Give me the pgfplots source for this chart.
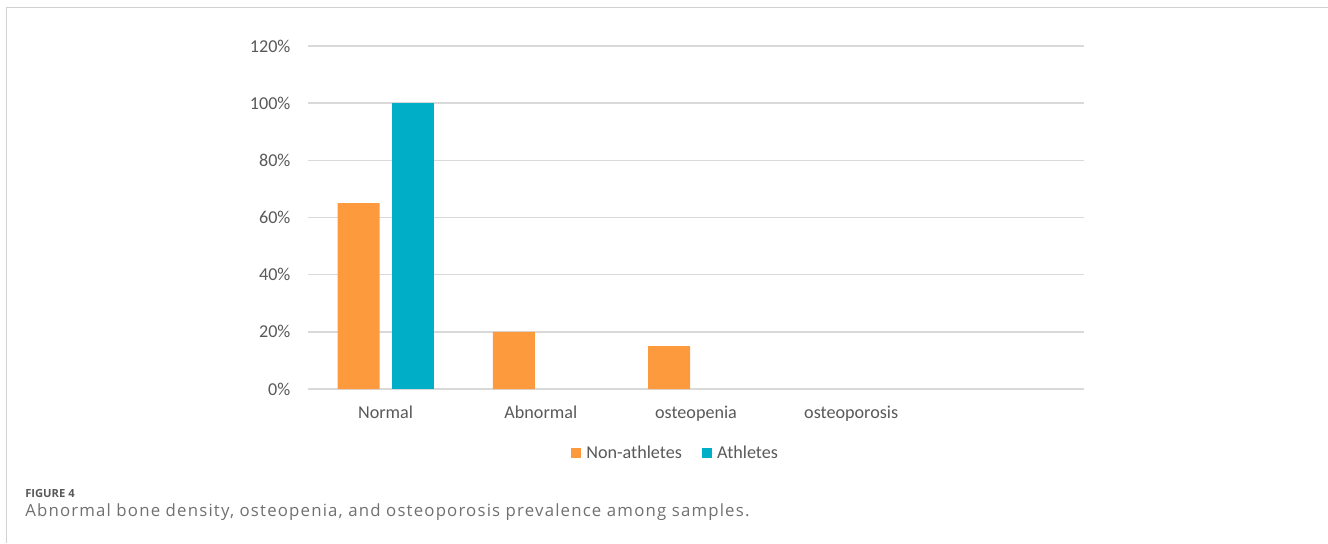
\documentclass[border=0pt]{standalone}
\usepackage{fontspec}
\setmainfont{Carlito}
\newfontfamily\capfont[LetterSpace=7]{Open Sans}
\newfontfamily\capfontb{Open Sans}
\usepackage{pgfplots}
\pgfplotsset{compat=1.18}

\definecolor{barorange}{HTML}{FD9A3E}
\definecolor{barteal}{HTML}{00AEC7}
\definecolor{gridgray}{HTML}{D9D9D9}
\definecolor{labelgray}{HTML}{595959}
\definecolor{framegray}{HTML}{D2D2D2}
\definecolor{captiongray}{HTML}{707070}

\begin{document}
\begin{tikzpicture}
% page area and the thin frame on the top and left
\path[use as bounding box] (0pt,0pt) rectangle (996pt,-407.25pt);
\draw[framegray, line width=1.1pt] (4.9pt,-407.25pt) -- (4.9pt,-5.6pt) -- (996pt,-5.6pt);

\begin{axis}[
  at={(231pt,-291.75pt)}, anchor=south west,
  scale only axis, width=582pt, height=257.25pt,
  xmin=-0.5, xmax=4.5, ymin=0, ymax=120,
  ybar=9pt, bar width=31.5pt,
  xtick={0,1,2,3,4},
  xticklabels={Normal,Abnormal,osteopenia,osteoporosis,{}},
  ytick={0,20,40,60,80,100,120},
  /pgf/number format/assume math mode=true,
  yticklabel={\pgfmathprintnumber{\tick}\%},
  ymajorgrids, grid style={gridgray, line width=1.1pt},
  axis line style={draw=none}, major tick style={draw=none},
  tick label style={font=\fontsize{13.6}{15}\selectfont, text=labelgray},
  yticklabel style={anchor=east, inner sep=0pt, xshift=-13pt},
  xticklabel style={anchor=north, inner sep=0pt, text height=9pt, text depth=3pt, yshift=-9pt},
  legend style={at={(0.474,-0.1866)}, anchor=center, draw=none,
    font=\fontsize{13.6}{15}\selectfont, text=labelgray,
    legend columns=2, inner sep=0pt,
    /tikz/every even column/.append style={column sep=13pt},
    nodes={inner sep=2pt}},
  legend image code/.code={%
    \fill[#1] (0pt,-3.75pt) rectangle (7.5pt,3.75pt);
    \path (0pt,0pt) -- (9.5pt,0pt);},
]
% zero values are left out: they draw no bar
\addplot[fill=barorange, draw=none] coordinates {(0,65) (1,20) (2,15)};
\addplot[fill=barteal, draw=none] coordinates {(0,100)};
\legend{Non-athletes,Athletes}
\end{axis}

\node[anchor=base west, inner sep=0pt, text=labelgray, font=\capfontb\bfseries\fontsize{8.4}{9}\selectfont] at (18.75pt,-372.75pt) {FIGURE 4};
\node[anchor=base west, inner sep=0pt, text=captiongray, font=\capfont\fontsize{12.6}{14}\selectfont] at (18.75pt,-387pt) {Abnormal bone density, osteopenia, and osteoporosis prevalence among samples.};
\end{tikzpicture}
\end{document}
